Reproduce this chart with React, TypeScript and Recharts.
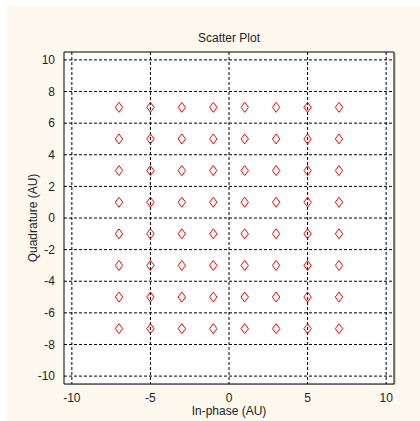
import React from 'react';
import {
  ScatterChart,
  Scatter,
  XAxis,
  YAxis,
  CartesianGrid,
  ReferenceArea,
} from 'recharts';

// 64-QAM constellation levels
const iLevels = [-7, -5, -3, -1, 1, 3, 5, 7];
const qLevels = [7, 5, 3, 1, -1, -3, -5, -7];
const xTicks = [-10, -5, 0, 5, 10];
const yTicks = [-10, -8, -6, -4, -2, 0, 2, 4, 6, 8, 10];

const points = qLevels.flatMap((q) => iLevels.map((i) => ({ x: i, y: q })));

const FONT = '"Liberation Sans", Arial, sans-serif';
const DOMAIN: [number, number] = [-10.5, 10.5];

const Diamond = (props: any) => {
  const { cx, cy } = props;
  if (cx == null || cy == null) return null;
  return (
    <path
      d={`M${cx},${cy - 5} L${cx + 3.7},${cy} L${cx},${cy + 5} L${cx - 3.7},${cy} Z`}
      fill="none"
      stroke="#ff0000"
      strokeWidth={1}
    />
  );
};

export default function App() {
  return (
    <div style={{ position: 'absolute', left: 0, top: 0, width: 420, height: 421, background: '#ffffff' }}>
      <div
        style={{
          position: 'absolute',
          left: 7,
          top: 5,
          width: 413,
          height: 416,
          background: '#fdf9ef',
          fontFamily: FONT,
        }}
      >
        {/* soft shadow to the right of the plot box */}
        <div style={{ position: 'absolute', left: 59, top: 48, width: 330, height: 332, background: '#d6d3cc' }} />
        <div
          style={{
            position: 'absolute',
            left: 57,
            width: 330,
            top: 26,
            textAlign: 'center',
            fontSize: 12,
            color: '#222',
          }}
        >
          Scatter Plot
        </div>
        <div style={{ position: 'absolute', left: 0, top: 0 }}>
          <ScatterChart
            width={413}
            height={416}
            margin={{ top: 47, right: 26, bottom: 7, left: 27 }}
            style={{ fontFamily: FONT }}
          >
            <CartesianGrid
              stroke="#000"
              strokeDasharray="3 2"
              horizontalValues={yTicks}
              verticalValues={xTicks}
              fill="#ffffff"
              fillOpacity={1}
            />
            <XAxis
              type="number"
              dataKey="x"
              domain={DOMAIN}
              ticks={xTicks}
              axisLine={false}
              tickLine={false}
              height={30}
              tick={{ fill: '#222', fontSize: 12 }}
              tickMargin={3}
              label={{ value: 'In-phase (AU)', position: 'insideBottom', offset: -1, fill: '#222', fontSize: 12 }}
            />
            <XAxis
              xAxisId="top"
              orientation="top"
              type="number"
              domain={DOMAIN}
              ticks={xTicks}
              mirror
              axisLine={false}
              tick={false}
              tickLine={{ stroke: '#000' }}
              tickSize={5}
              height={0}
            />
            <YAxis
              type="number"
              dataKey="y"
              domain={DOMAIN}
              ticks={yTicks}
              axisLine={false}
              tickLine={false}
              width={30}
              tick={{ fill: '#222', fontSize: 12 }}
              tickMargin={3}
              label={{ value: 'Quadrature (AU)', angle: -90, position: 'insideLeft', offset: -1, fill: '#222', fontSize: 12, style: { textAnchor: 'middle' } }}
            />
            <YAxis
              yAxisId="right"
              orientation="right"
              type="number"
              domain={DOMAIN}
              ticks={yTicks}
              mirror
              axisLine={false}
              tick={false}
              tickLine={{ stroke: '#000' }}
              tickSize={5}
              width={0}
            />
            <ReferenceArea
              x1={-10.5}
              x2={10.5}
              y1={-10.5}
              y2={10.5}
              fill="none"
              fillOpacity={0}
              stroke="#000"
              strokeWidth={1}
            />
            <Scatter data={points} shape={Diamond} isAnimationActive={false} />
          </ScatterChart>
        </div>
      </div>
    </div>
  );
}
